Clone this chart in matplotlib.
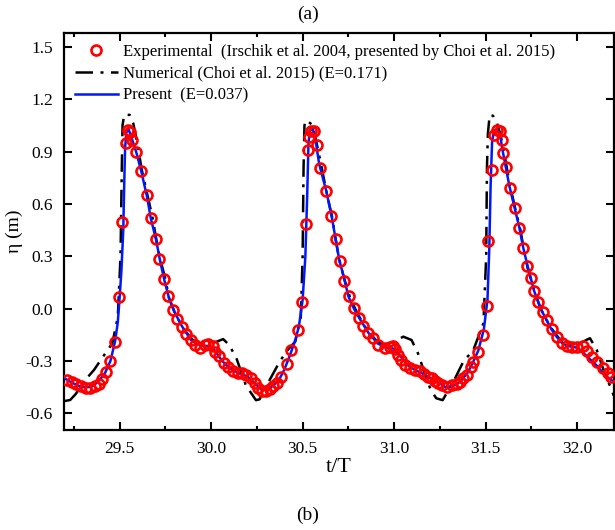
"""Free-surface elevation time series: experiment vs numerical vs present."""
import matplotlib
matplotlib.use("Agg")
import matplotlib.pyplot as plt
from matplotlib.ticker import MultipleLocator, FormatStrFormatter

plt.rcParams["font.family"] = ["Liberation Serif", "DejaVu Serif"]
plt.rcParams["axes.unicode_minus"] = False
plt.rcParams["mathtext.fontset"] = "stix"

# experimental points (Irschik et al. 2004)
exp_t = [29.211, 29.238, 29.262, 29.290, 29.315, 29.340, 29.365, 29.385, 29.405, 29.424,
         29.449, 29.475, 29.498, 29.515, 29.535, 29.547, 29.557, 29.569, 29.589, 29.617,
         29.648, 29.670, 29.697, 29.717, 29.742, 29.763, 29.793, 29.815, 29.839, 29.863,
         29.888, 29.913, 29.940, 29.965, 29.985, 30.010, 30.023, 30.041, 30.068, 30.094,
         30.121, 30.148, 30.170, 30.190, 30.216, 30.240, 30.258,
         30.276, 30.300, 30.322, 30.339, 30.362, 30.384, 30.412, 30.439, 30.472, 30.494,
         30.516, 30.530, 30.536, 30.548, 30.563, 30.576, 30.594, 30.630, 30.657, 30.682,
         30.703, 30.727, 30.753, 30.782, 30.809, 30.831, 30.858, 30.885, 30.913, 30.949,
         30.977, 30.995, 31.007, 31.022, 31.040, 31.059, 31.086, 31.113, 31.141, 31.164,
         31.187, 31.205, 31.225, 31.241, 31.260, 31.287, 31.315, 31.342, 31.360, 31.378,
         31.396, 31.418, 31.433, 31.460, 31.484, 31.509, 31.515, 31.533, 31.546, 31.560,
         31.578, 31.587, 31.596, 31.611, 31.633, 31.660, 31.684, 31.706, 31.728, 31.746,
         31.766, 31.788, 31.812, 31.834, 31.864, 31.888, 31.916, 31.943, 31.970, 31.998,
         32.034, 32.052, 32.083, 32.110, 32.140, 32.170, 32.185]
exp_eta = [-0.409, -0.420, -0.432, -0.445, -0.455, -0.455, -0.443, -0.430, -0.405, -0.365,
           -0.300, -0.189, 0.065, 0.497, 0.948, 1.024, 1.014, 0.964, 0.900, 0.791,
           0.652, 0.518, 0.398, 0.283, 0.170, 0.073, -0.008, -0.059, -0.103, -0.147,
           -0.180, -0.208, -0.227, -0.210, -0.203, -0.215, -0.247, -0.271, -0.310, -0.333,
           -0.356, -0.367, -0.371, -0.380, -0.399, -0.428, -0.457,
           -0.470, -0.470, -0.462, -0.445, -0.425, -0.390, -0.319, -0.237, -0.122, 0.040,
           0.484, 0.910, 0.986, 1.015, 1.019, 0.938, 0.805, 0.671, 0.531, 0.398,
           0.273, 0.159, 0.073, 0.002, -0.055, -0.100, -0.141, -0.170, -0.208, -0.227,
           -0.218, -0.214, -0.233, -0.266, -0.294, -0.323, -0.342, -0.352, -0.356, -0.375,
           -0.390, -0.400, -0.415, -0.425, -0.438, -0.447, -0.440, -0.432, -0.419, -0.399,
           -0.380, -0.333, -0.304, -0.247, -0.151, 0.015, 0.388, 0.795, 0.996, 1.024,
           1.020, 0.967, 0.894, 0.814, 0.690, 0.575, 0.461, 0.346, 0.245, 0.174,
           0.103, 0.040, -0.017, -0.065, -0.118, -0.161, -0.199, -0.214, -0.218, -0.218,
           -0.214, -0.241, -0.275, -0.304, -0.342, -0.371, -0.390]

# numerical (Choi et al. 2015)
num_t = [29.200, 29.230, 29.260, 29.320, 29.360, 29.410, 29.460, 29.490, 29.505, 29.512,
         29.516, 29.525, 29.555, 29.575, 29.600, 29.620, 29.650, 29.680, 29.700, 29.720,
         29.750, 29.770, 29.800, 29.850, 29.900, 29.950, 29.980, 30.030, 30.066, 30.100,
         30.140, 30.190, 30.245, 30.265,
         30.310, 30.370, 30.410, 30.460, 30.490, 30.500, 30.505, 30.510, 30.520, 30.550,
         30.570, 30.600, 30.630, 30.660, 30.680, 30.700, 30.730, 30.760, 30.800, 30.850,
         30.900, 30.950, 31.000, 31.050, 31.095, 31.130, 31.170, 31.200, 31.230, 31.265,
         31.324, 31.378, 31.433, 31.488, 31.503, 31.507, 31.512, 31.522, 31.540, 31.560,
         31.580, 31.600, 31.630, 31.660, 31.690, 31.710, 31.730, 31.770, 31.800, 31.850,
         31.900, 31.950, 32.000, 32.050, 32.070, 32.107, 32.150, 32.190, 32.200]
num_eta = [-0.530, -0.524, -0.490, -0.400, -0.352, -0.275, -0.200, -0.050, 0.300, 0.800,
           1.050, 1.110, 1.110, 1.060, 0.930, 0.800, 0.660, 0.520, 0.400, 0.290,
           0.170, 0.060, -0.020, -0.120, -0.180, -0.210, -0.205, -0.190, -0.175, -0.210,
           -0.290, -0.440, -0.525, -0.520,
           -0.428, -0.313, -0.247, -0.189, -0.050, 0.300, 0.800, 1.050, 1.080, 1.055,
           0.980, 0.830, 0.670, 0.530, 0.400, 0.280, 0.160, 0.060, -0.030, -0.120,
           -0.180, -0.210, -0.190, -0.161, -0.180, -0.256, -0.380, -0.466, -0.514, -0.525,
           -0.419, -0.304, -0.237, -0.084, 0.300, 0.800, 1.000, 1.110, 1.105, 1.070,
           1.000, 0.900, 0.720, 0.580, 0.450, 0.330, 0.230, 0.090, 0.000, -0.100,
           -0.170, -0.210, -0.210, -0.180, -0.170, -0.237, -0.370, -0.470, -0.500]

# present model
pre_t = [29.200, 29.240, 29.270, 29.300, 29.330, 29.360, 29.390, 29.420, 29.450, 29.475,
         29.490, 29.500, 29.510, 29.520, 29.525, 29.530, 29.537, 29.550, 29.565, 29.590,
         29.620, 29.650, 29.670, 29.700, 29.720, 29.745, 29.770, 29.800, 29.840, 29.890,
         29.940, 29.980, 30.020, 30.060, 30.100, 30.150, 30.200, 30.240, 30.270, 30.310,
         30.340, 30.370, 30.400, 30.430, 30.460, 30.480, 30.500, 30.515, 30.525, 30.532,
         30.540, 30.555, 30.570, 30.590, 30.630, 30.660, 30.680, 30.700, 30.730, 30.750,
         30.780, 30.810, 30.860, 30.910, 30.960, 31.000, 31.040, 31.080, 31.120, 31.160,
         31.200, 31.240, 31.280, 31.320, 31.360, 31.400, 31.430, 31.460, 31.490, 31.510,
         31.520, 31.527, 31.535, 31.545, 31.565, 31.580, 31.590, 31.610, 31.630, 31.660,
         31.685, 31.705, 31.730, 31.765, 31.790, 31.810, 31.835, 31.860, 31.890, 31.920,
         31.950, 31.980, 32.000, 32.030, 32.070, 32.110, 32.150, 32.200]
pre_eta = [-0.400, -0.425, -0.440, -0.450, -0.450, -0.440, -0.410, -0.370, -0.300, -0.190,
           -0.080, 0.060, 0.220, 0.450, 0.700, 0.920, 1.010, 1.025, 0.980, 0.900,
           0.780, 0.640, 0.520, 0.390, 0.280, 0.160, 0.060, -0.020, -0.100, -0.180,
           -0.210, -0.215, -0.240, -0.300, -0.340, -0.370, -0.390, -0.430, -0.460, -0.465,
           -0.440, -0.410, -0.350, -0.270, -0.180, -0.100, 0.050, 0.300, 0.650, 0.950,
           1.020, 1.030, 0.970, 0.830, 0.670, 0.520, 0.400, 0.280, 0.160, 0.070,
           0.000, -0.055, -0.140, -0.200, -0.225, -0.230, -0.280, -0.330, -0.355, -0.375,
           -0.400, -0.420, -0.450, -0.445, -0.420, -0.370, -0.310, -0.240, -0.120, 0.050,
           0.350, 0.700, 0.950, 1.020, 1.025, 0.990, 0.920, 0.810, 0.700, 0.570,
           0.460, 0.350, 0.240, 0.100, 0.030, -0.020, -0.070, -0.120, -0.165, -0.200,
           -0.215, -0.220, -0.225, -0.250, -0.290, -0.330, -0.380, -0.420]

legend_labels = ["Experimental  (Irschik et al. 2004, presented by Choi et al. 2015)",
                 "Numerical (Choi et al. 2015) (E=0.171)",
                 "Present  (E=0.037)"]


def main() -> None:
    fig = plt.figure(figsize=(6.15, 5.30), dpi=100)
    ax = fig.add_axes([0.104, 0.189, 0.894, 0.749])

    ax.plot(num_t, num_eta, color="black", lw=1.8, dashes=(7, 3, 1.2, 3),
            label=legend_labels[1], zorder=2)
    ax.plot(pre_t, pre_eta, color="#0018ff", lw=1.8, label=legend_labels[2], zorder=3)
    ax.plot(exp_t, exp_eta, ls="none", marker="o", ms=7.2, mfc="none", mec="#ff0000",
            mew=1.9, label=legend_labels[0], zorder=4)

    ax.set_xlim(29.196, 32.2)
    ax.set_ylim(-0.695, 1.58)
    ax.xaxis.set_major_locator(MultipleLocator(0.5))
    ax.xaxis.set_minor_locator(MultipleLocator(0.25))
    ax.yaxis.set_major_locator(MultipleLocator(0.3))
    ax.xaxis.set_major_formatter(FormatStrFormatter("%.1f"))
    ax.yaxis.set_major_formatter(FormatStrFormatter("%.1f"))
    ax.tick_params(which="both", direction="in", top=True, right=True, width=1.5,
                   labelsize=12.5)
    ax.tick_params(which="major", length=6, pad=8)
    ax.tick_params(which="minor", length=3)
    for sp in ax.spines.values():
        sp.set_linewidth(1.6)

    ax.set_xlabel("t/T", fontsize=16, labelpad=1)
    ax.set_ylabel("η (m)", fontsize=14, labelpad=2)

    handles, labels = ax.get_legend_handles_labels()
    order = [2, 0, 1]
    ax.legend([handles[i] for i in order], [labels[i] for i in order],
              loc="upper left", frameon=False, fontsize=12, handlelength=2.6,
              handletextpad=0.3, labelspacing=0.35, borderaxespad=0.25)

    fig.text(0.5, 0.972, "(a)", ha="center", va="center", fontsize=14)
    fig.text(0.5, 0.028, "(b)", ha="center", va="center", fontsize=14)

    fig.savefig("out.png", dpi=100)
    plt.close(fig)


if __name__ == "__main__":
    main()
